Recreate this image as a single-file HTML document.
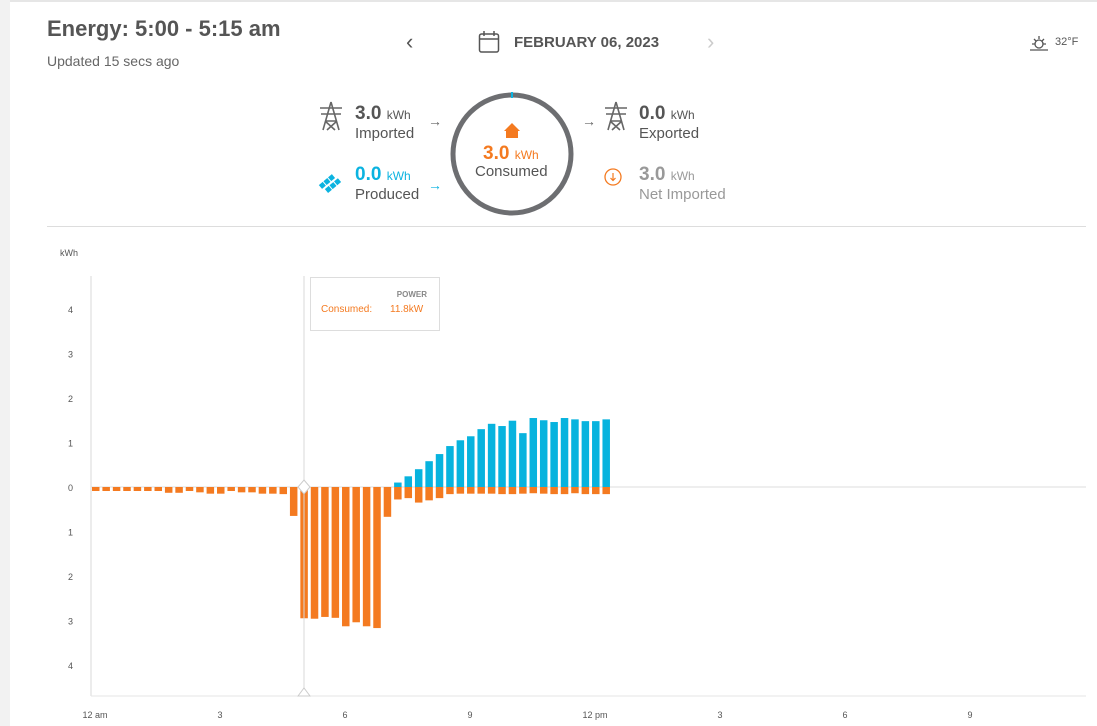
<!DOCTYPE html>
<html><head><meta charset="utf-8"><style>
body{margin:0;width:1097px;height:726px;background:#fff;font-family:"Liberation Sans",sans-serif;overflow:hidden;position:relative}
.a{position:absolute;white-space:nowrap}
.big{font-size:19px;color:#555}
.u{font-size:12px;font-weight:normal}
.lbl{font-size:15px;color:#555}
</style></head><body>
<div class="a" style="left:0;top:0;width:10px;height:726px;background:#f2f2f2"></div>
<div class="a" style="left:10px;top:0;width:1087px;height:2px;background:#e6e6e6"></div>
<div class="a" style="left:47px;top:16px;font-size:22px;font-weight:bold;color:#555">Energy: 5:00 - 5:15 am</div>
<div class="a" style="left:47px;top:53px;font-size:14px;color:#666">Updated 15 secs ago</div>
<div class="a" style="left:406px;top:29px;font-size:22px;color:#555">‹</div>
<svg class="a" style="left:478px;top:30px" width="22" height="24"><rect x="1.5" y="4" width="19" height="18" rx="2" fill="none" stroke="#555" stroke-width="1.5"/><line x1="1.5" y1="9" x2="20.5" y2="9" stroke="#555" stroke-width="1.5"/><line x1="6" y1="1" x2="6" y2="6" stroke="#555" stroke-width="1.5"/><line x1="16" y1="1" x2="16" y2="6" stroke="#555" stroke-width="1.5"/></svg>
<div class="a" style="left:514px;top:34px;font-size:15px;font-weight:bold;color:#555">FEBRUARY 06, 2023</div>
<div class="a" style="left:707px;top:29px;font-size:22px;color:#ccc">›</div>
<svg class="a" style="left:1028px;top:34px" width="24" height="20"><circle cx="11" cy="10" r="4" fill="none" stroke="#555" stroke-width="1.3"/><path d="M11 2v3M4 10h3M15 10h3M6 5l2 2M16 5l-2 2M2 16h18" stroke="#555" stroke-width="1.3"/></svg>
<div class="a" style="left:1055px;top:36px;font-size:11px;color:#555">32°F</div>

<svg class="a" style="left:318px;top:101px" width="26" height="30"><path d="M13 1 L5 29 M13 1 L21 29 M2 7 H24 M3 13 H23 M7 20 L19 20 M7 20 L17 29 M19 20 L9 29" stroke="#666" stroke-width="1.6" fill="none"/></svg>
<div class="a big" style="left:355px;top:103px"><b>3.0</b> <span class="u">kWh</span></div>
<div class="a lbl" style="left:355px;top:125px">Imported</div>
<div class="a" style="left:428px;top:113px;color:#666;font-size:14px">→</div>
<svg class="a" style="left:318px;top:171px" width="26" height="26"><g fill="#0bb3e0" transform="rotate(-40 13 13)"><rect x="3" y="6" width="5" height="5"/><rect x="9" y="6" width="5" height="5"/><rect x="15" y="6" width="5" height="5"/><rect x="5" y="13" width="5" height="5"/><rect x="11" y="13" width="5" height="5"/><rect x="17" y="13" width="5" height="5"/></g></svg>
<div class="a big" style="left:355px;top:164px;color:#0bb3e0"><b>0.0</b> <span class="u">kWh</span></div>
<div class="a lbl" style="left:355px;top:186px">Produced</div>
<div class="a" style="left:428px;top:177px;color:#0bb3e0;font-size:14px">→</div>
<svg class="a" style="left:449px;top:91px" width="126" height="126"><circle cx="63" cy="63" r="59" fill="none" stroke="#6d6e71" stroke-width="5"/><line x1="63" y1="1" x2="63" y2="7" stroke="#0bb3e0" stroke-width="2"/><path d="M55 40 L63 32 L71 40 L69 40 L69 47 L57 47 L57 40Z" fill="#f47a20"/></svg>
<div class="a" style="left:483px;top:143px;font-size:19px;color:#f47a20"><b>3.0</b> <span class="u">kWh</span></div>
<div class="a lbl" style="left:475px;top:163px">Consumed</div>
<div class="a" style="left:582px;top:113px;color:#666;font-size:14px">→</div>
<svg class="a" style="left:603px;top:101px" width="26" height="30"><path d="M13 1 L5 29 M13 1 L21 29 M2 7 H24 M3 13 H23 M7 20 L19 20 M7 20 L17 29 M19 20 L9 29" stroke="#666" stroke-width="1.6" fill="none"/></svg>
<div class="a big" style="left:639px;top:103px"><b>0.0</b> <span class="u">kWh</span></div>
<div class="a lbl" style="left:639px;top:125px">Exported</div>
<svg class="a" style="left:603px;top:167px" width="20" height="20"><circle cx="10" cy="10" r="8" fill="none" stroke="#f47a20" stroke-width="1.3"/><path d="M10 6 V13 M7.5 11 L10 13.5 L12.5 11" stroke="#f47a20" fill="none" stroke-width="1.2"/></svg>
<div class="a big" style="left:639px;top:164px;color:#999"><b>3.0</b> <span class="u">kWh</span></div>
<div class="a lbl" style="left:639px;top:186px;color:#999">Net Imported</div>
<div class="a" style="left:47px;top:226px;width:1039px;height:1px;background:#ddd"></div>

<svg id="chart" class="a" style="left:0;top:0" width="1097" height="726"></svg>
<script>
const yTicks=[4,3,2,1,0,1,2,3,4];
const yTickVals=[4,3,2,1,0,-1,-2,-3,-4];
const xLabels=["12 am","3","6","9","12 pm","3","6","9"];
const xLabelHours=[0,3,6,9,12,15,18,21];
const consumed=[0.09,0.09,0.09,0.09,0.09,0.09,0.09,0.13,0.13,0.09,0.12,0.15,0.15,0.09,0.12,0.12,0.15,0.15,0.16,0.65,2.95,2.96,2.92,2.94,3.13,3.04,3.13,3.17,0.67,0.28,0.25,0.35,0.3,0.25,0.16,0.15,0.15,0.15,0.15,0.16,0.16,0.15,0.14,0.15,0.16,0.16,0.14,0.16,0.16,0.16];
const produced=[0,0,0,0,0,0,0,0,0,0,0,0,0,0,0,0,0,0,0,0,0,0,0,0,0,0,0,0,0,0.1,0.24,0.4,0.58,0.74,0.92,1.05,1.14,1.3,1.42,1.37,1.49,1.21,1.55,1.5,1.46,1.55,1.52,1.48,1.48,1.52];
const svg=document.getElementById('chart');
const NS='http://www.w3.org/2000/svg';
const y0=487,unit=44.5,x0=94,hr=41.67;
const Y=v=>y0-v*unit, X=h=>x0+h*hr;
function mk(t,attrs){const e=document.createElementNS(NS,t);for(const k in attrs)e.setAttribute(k,attrs[k]);svg.appendChild(e);return e;}
let e=mk('text',{x:60,y:256,'font-size':9,fill:'#555','font-family':'Liberation Sans'});e.textContent='kWh';


e=mk('line',{x1:91,y1:276,x2:91,y2:696,stroke:'#e6e6e6','stroke-width':1.5});


e=mk('line',{x1:91,y1:696,x2:1086,y2:696,stroke:'#e6e6e6','stroke-width':1});


e=mk('line',{x1:91,y1:487,x2:1086,y2:487,stroke:'#ddd','stroke-width':1});


yTicks.forEach((t,i)=>{const el=mk('text',{x:73,y:Y(yTickVals[i])+4,'font-size':9,fill:'#555','text-anchor':'end','font-family':'Liberation Sans'});el.textContent=t;

});
xLabels.forEach((t,i)=>{const el=mk('text',{x:X(xLabelHours[i])+1,y:718,'font-size':9,fill:'#555','text-anchor':'middle','font-family':'Liberation Sans'});el.textContent=t;

});
consumed.forEach((v,i)=>{const x=X(i*0.25)-2;
const b=mk('rect',{x:x,y:y0,width:7.5,height:v*unit,fill:'#f47a20'});


if(produced[i]>0){const p=mk('rect',{x:x,y:Y(produced[i]),width:7.5,height:produced[i]*unit,fill:'#07b3de'});

}});
e=mk('line',{x1:304,y1:276,x2:304,y2:696,stroke:'#d8d8d8','stroke-width':1});


e=mk('path',{d:'M304 480 L310 487 L304 494 L298 487Z',fill:'#fff',stroke:'#ccc'});


e=mk('path',{d:'M298 696 L304 688 L310 696Z',fill:'#fff',stroke:'#ccc'});


e=mk('rect',{x:310.5,y:277.5,width:129,height:53,fill:'#fff',stroke:'#ddd'});


e=mk('text',{x:427,y:297,'font-size':8,'font-weight':'bold',fill:'#888','text-anchor':'end','font-family':'Liberation Sans'});e.textContent='POWER';


e=mk('text',{x:321,y:312,'font-size':10,fill:'#f47a20','font-family':'Liberation Sans'});e.textContent='Consumed:';


e=mk('text',{x:390,y:312,'font-size':10,fill:'#f47a20','font-family':'Liberation Sans'});e.textContent='11.8kW';


</script>
</body></html>
